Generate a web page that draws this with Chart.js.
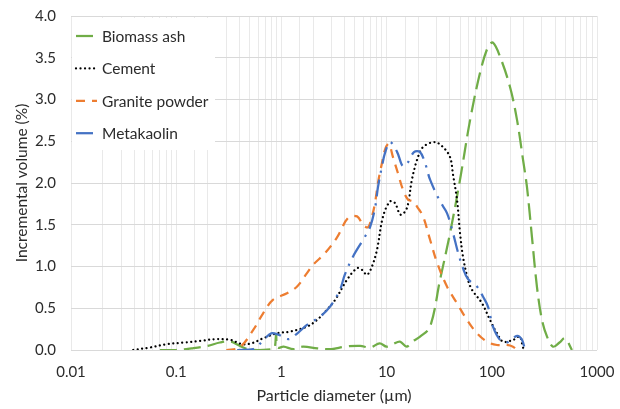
<!DOCTYPE html>
<html>
<head>
<meta charset="utf-8">
<script src="https://cdn.jsdelivr.net/npm/chart.js@4.4.1/dist/chart.umd.min.js"></script>
<style>
  html, body { margin: 0; padding: 0; background: #fff; }
  #wrap { width: 620px; height: 409px; }
</style>
</head>
<body>
<div id="wrap"><canvas id="chart" width="620" height="409"></canvas></div>
<script>
// series names, in legend order
const seriesNames = ['Biomass ash', 'Cement', 'Granite powder', 'Metakaolin'];
const tickLabels = ['0.01', '0.1', '1', '10', '100', '1000'];

// particle size (um) / incremental volume (%)
const ashSize = [0.07, 0.1, 0.14, 0.2, 0.26, 0.33, 0.4, 0.48, 0.6, 0.8, 0.86, 0.89, 0.92, 1.05, 1.3, 1.6, 2.2, 3.0, 4.0, 5.6, 7.0, 8.6, 10, 11.5, 13.4, 15.5, 17.5, 20.8, 25.9, 32.2, 40.1, 49.9, 62.1, 77.3, 92, 102.6, 120, 149, 174, 198, 216, 241, 269, 300, 335, 382, 440, 497, 578];
const ashVol = [0, 0, 0.02, 0.05, 0.09, 0.1, 0.05, 0.01, 0, 0.01, 0.02, 0.18, 0.03, 0.04, 0.01, 0.04, 0.02, 0.01, 0.04, 0.05, 0.03, 0.08, 0.04, 0.07, 0.1, 0.04, 0.1, 0.16, 0.28, 0.84, 1.4, 2.04, 2.75, 3.32, 3.63, 3.68, 3.51, 3.15, 2.75, 2.28, 1.95, 1.35, 0.75, 0.36, 0.16, 0.04, 0.09, 0.14, 0];

const cemSize = [0.039, 0.056, 0.082, 0.12, 0.17, 0.24, 0.33, 0.42, 0.52, 0.67, 0.91, 1.2, 1.75, 2.18, 2.7, 3.24, 4.2, 5.24, 5.84, 6.5, 7.26, 8.1, 9.25, 10.8, 12, 13.6, 15.6, 17.4, 19.5, 22.2, 28.8, 34.4, 40.1, 42.8, 46.7, 49.9, 53.2, 59.4, 64.9, 80.7, 96.1, 112, 128, 159, 185, 198, 207];
const cemVol = [0, 0.03, 0.07, 0.09, 0.11, 0.13, 0.12, 0.07, 0.08, 0.14, 0.2, 0.22, 0.28, 0.36, 0.48, 0.6, 0.84, 0.98, 0.96, 0.9, 1.0, 1.2, 1.6, 1.78, 1.76, 1.62, 1.7, 2.04, 2.28, 2.43, 2.49, 2.43, 2.31, 2.1, 1.8, 1.4, 1.12, 0.84, 0.72, 0.56, 0.36, 0.2, 0.1, 0.12, 0.16, 0.03, 0];

const graSize = [0.30, 0.40, 0.54, 0.67, 0.83, 1.13, 1.41, 1.75, 2.0, 2.6, 3.38, 4.3, 5.24, 5.97, 6.65, 7.26, 7.76, 8.28, 9.04, 9.66, 10.5, 11.5, 12.8, 14.3, 16.0, 17.8, 19.9, 22.2, 25.9, 30.1, 37.5, 46.7, 58.1, 72.3, 90, 112, 139, 159, 174];
const graVol = [0, 0.03, 0.24, 0.44, 0.6, 0.68, 0.76, 0.92, 1.02, 1.16, 1.35, 1.58, 1.6, 1.5, 1.47, 1.6, 1.76, 2.0, 2.24, 2.4, 2.47, 2.31, 2.12, 1.92, 1.8, 1.78, 1.7, 1.6, 1.32, 1.05, 0.76, 0.56, 0.36, 0.2, 0.1, 0.06, 0.06, 0.04, 0];

const metSize = [0.38, 0.54, 0.7, 0.8, 0.95, 1.17, 1.42, 1.75, 2.33, 2.9, 3.6, 4.0, 4.8, 5.97, 6.95, 7.76, 8.28, 9.04, 9.66, 10.8, 12.6, 14.3, 16.0, 18.2, 20.8, 23.2, 25.9, 32.2, 37.5, 42.8, 47.7, 53.2, 59.4, 72.3, 82.4, 92, 102.6, 120, 139, 174, 194, 207];
const metVol = [0, 0.01, 0.14, 0.2, 0.18, 0.13, 0.2, 0.3, 0.4, 0.52, 0.72, 0.9, 1.12, 1.32, 1.47, 1.7, 1.95, 2.2, 2.36, 2.49, 2.37, 2.2, 2.25, 2.37, 2.37, 2.24, 2.04, 1.78, 1.64, 1.4, 1.17, 0.98, 0.85, 0.76, 0.64, 0.52, 0.28, 0.12, 0.09, 0.17, 0.12, 0];

const FONT = 'Lato, "Open Sans", sans-serif';
const TICK_SIZE = 15;
const TEXT_SIZE = 15.5;
const TEXT = '#2b2b2b';

function points(xs, ys) {
    return xs.map((x, i) => ({ x: x, y: ys[i] }));
}

// legend sits inside the plot, on a white box, like the Excel one
const boxLegend = {
    id: 'boxLegend',
    beforeDatasetsDraw(chart) {
        const ctx = chart.ctx;
        const left = chart.chartArea.left;
        ctx.save();
        ctx.fillStyle = '#ffffff';
        ctx.fillRect(left + 1, 18, 143, 132);
        seriesNames.forEach((name, i) => {
            const ds = chart.data.datasets[i];
            const y = 36 + i * 32.4;
            ctx.beginPath();
            ctx.strokeStyle = ds.borderColor;
            ctx.lineWidth = ds.borderWidth;
            ctx.lineCap = ds.borderCapStyle;
            ctx.setLineDash(ds.borderDash);
            ctx.moveTo(left + 5, y);
            ctx.lineTo(left + 26, y);
            ctx.stroke();
            ctx.setLineDash([]);
            ctx.fillStyle = TEXT;
            ctx.font = TEXT_SIZE + 'px ' + FONT;
            ctx.textBaseline = 'middle';
            ctx.fillText(name, left + 31, y + 1);
        });
        ctx.restore();
    }
};

new Chart(document.getElementById('chart'), {
    type: 'line',
    data: {
        datasets: [
            {
                label: seriesNames[0],
                data: points(ashSize, ashVol),
                borderColor: '#70ad47',
                borderWidth: 2.25,
                borderDash: [17, 7],
                borderCapStyle: 'butt',
                order: 4
            },
            {
                label: seriesNames[1],
                data: points(cemSize, cemVol),
                borderColor: '#000000',
                borderWidth: 2.25,
                borderDash: [0.01, 4.5],
                borderCapStyle: 'round',
                order: 3
            },
            {
                label: seriesNames[2],
                data: points(graSize, graVol),
                borderColor: '#ed7d31',
                borderWidth: 2.25,
                borderDash: [9, 7],
                borderCapStyle: 'butt',
                order: 2
            },
            {
                label: seriesNames[3],
                data: points(metSize, metVol),
                borderColor: '#4472c4',
                borderWidth: 2.25,
                borderDash: [17, 7, 2.25, 7],
                borderCapStyle: 'butt',
                order: 1
            }
        ]
    },
    options: {
        responsive: false,
        animation: false,
        devicePixelRatio: 1,
        layout: { padding: { top: 16, right: 23, bottom: 0, left: 0 } },
        elements: {
            point: { radius: 0 },
            line: { tension: 0.35, fill: false }
        },
        plugins: {
            legend: { display: false },
            tooltip: { enabled: false }
        },
        scales: {
            x: {
                type: 'logarithmic',
                min: 0.01,
                max: 1000,
                border: { display: false },
                grid: { color: '#e9e9e9', drawTicks: false },
                ticks: {
                    autoSkip: false,
                    maxRotation: 0,
                    padding: 13,
                    color: TEXT,
                    font: { family: FONT, size: TICK_SIZE },
                    callback: function (value) {
                        const e = Math.log10(value);
                        if (Math.abs(e - Math.round(e)) < 1e-6) {
                            return tickLabels[Math.round(e) + 2];
                        }
                        return '';
                    }
                },
                title: {
                    display: true,
                    text: 'Particle diameter (µm)',
                    color: TEXT,
                    font: { family: FONT, size: 16 },
                    padding: { top: 0, bottom: 4 }
                },
                afterFit: function (scale) {
                    scale.height = 59;
                    scale.paddingLeft = 0;
                    scale.paddingRight = 0;
                }
            },
            y: {
                min: 0,
                max: 4,
                border: { display: false },
                grid: { color: '#d9d9d9', drawTicks: false },
                ticks: {
                    stepSize: 0.5,
                    padding: 15,
                    color: TEXT,
                    font: { family: FONT, size: TICK_SIZE },
                    callback: v => v.toFixed(1)
                },
                title: {
                    display: true,
                    text: 'Incremental volume (%)',
                    color: TEXT,
                    font: { family: FONT, size: 15.5 },
                    padding: { top: 13, bottom: 0 }
                },
                afterFit: function (scale) {
                    scale.width = 71;
                    scale.paddingTop = 0;
                    scale.paddingBottom = 0;
                }
            }
        }
    },
    plugins: [boxLegend]
});
</script>
</body>
</html>
